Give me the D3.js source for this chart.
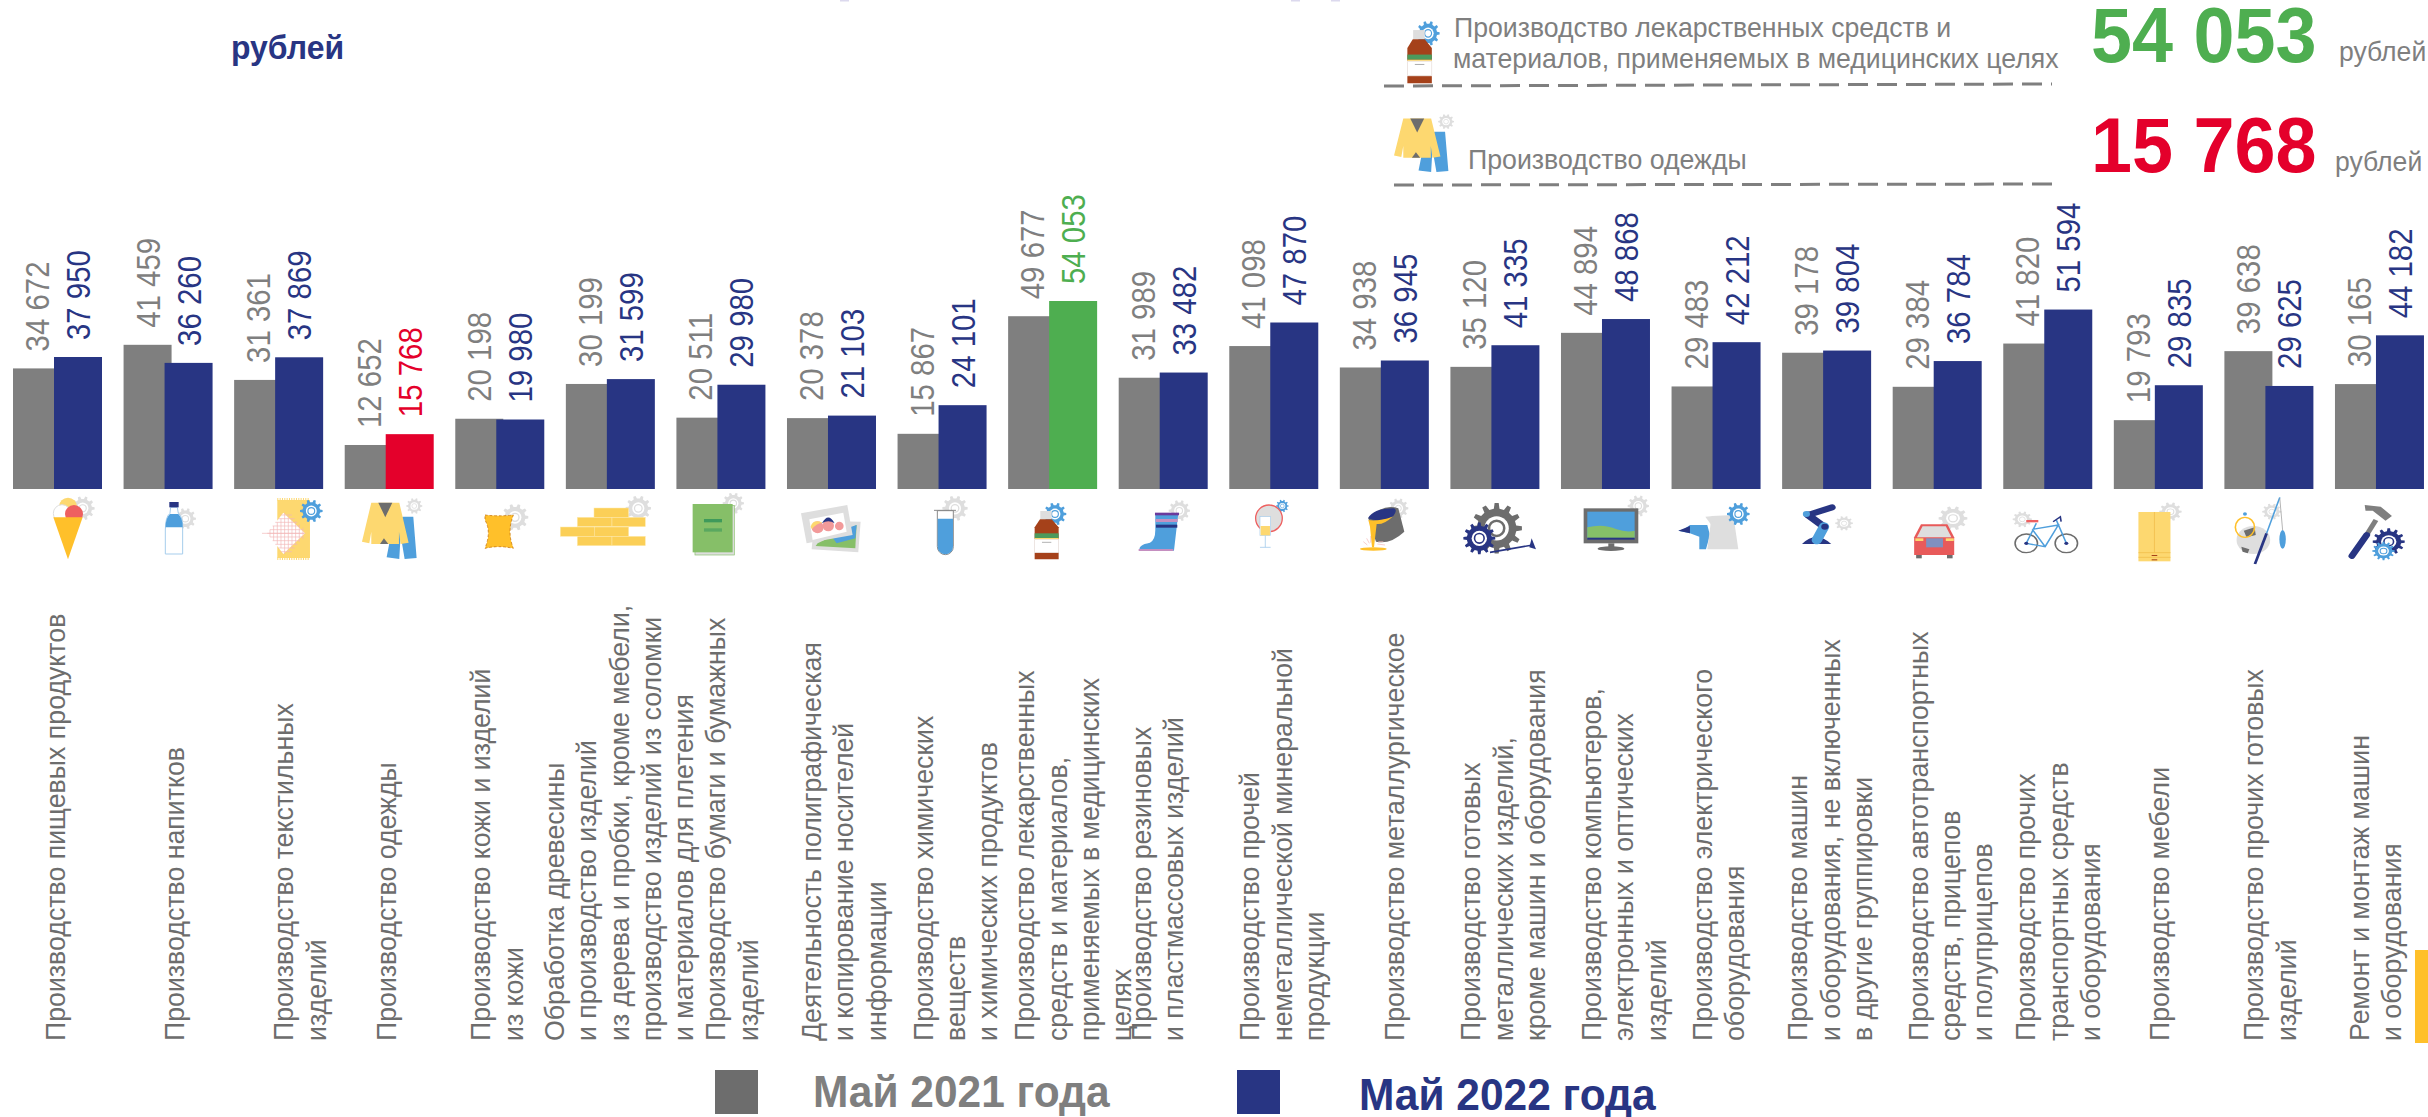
<!DOCTYPE html>
<html lang="ru">
<head>
<meta charset="utf-8">
<title>Заработная плата по видам обрабатывающих производств</title>
<script src="https://d3js.org/d3.v7.min.js"></script>
<style>
  html, body { margin: 0; padding: 0; background: #fff; overflow: hidden; }
  svg { display: block; }
  text { font-family: "Liberation Sans", Arial, sans-serif; }
</style>
</head>
<body>
<div id="chart"></div>
<script>
// data
var categories = [
  ["Производство пищевых продуктов"],
  ["Производство напитков"],
  ["Производство текстильных", "изделий"],
  ["Производство одежды"],
  ["Производство кожи и изделий", "из кожи"],
  ["Обработка древесины", "и производство изделий", "из дерева и пробки, кроме мебели,", "производство изделий из соломки", "и материалов для плетения"],
  ["Производство бумаги и бумажных", "изделий"],
  ["Деятельность полиграфическая", "и копирование носителей", "информации"],
  ["Производство химических", "веществ", "и химических продуктов"],
  ["Производство лекарственных", "средств и материалов,", "применяемых в медицинских", "целях"],
  ["Производство резиновых", "и пластмассовых изделий"],
  ["Производство прочей", "неметаллической минеральной", "продукции"],
  ["Производство металлургическое"],
  ["Производство готовых", "металлических изделий,", "кроме машин и оборудования"],
  ["Производство компьютеров,", "электронных и оптических", "изделий"],
  ["Производство электрического", "оборудования"],
  ["Производство машин", "и оборудования, не включенных", "в другие группировки"],
  ["Производство автотранспортных", "средств, прицепов", "и полуприцепов"],
  ["Производство прочих", "транспортных средств", "и оборудования"],
  ["Производство мебели"],
  ["Производство прочих готовых", "изделий"],
  ["Ремонт и монтаж машин", "и оборудования"]
];
var may2021 = [34672, 41459, 31361, 12652, 20198, 30199, 20511, 20378, 15867, 49677, 31989, 41098, 34938, 35120, 44894, 29483, 39178, 29384, 41820, 19793, 39638, 30165];
var may2022 = [37950, 36260, 37869, 15768, 19980, 31599, 29980, 21103, 24101, 54053, 33482, 47870, 36945, 41335, 48868, 42212, 39804, 36784, 51594, 29835, 29625, 44182];
var legendNames = ["Май 2021 года", "Май 2022 года"];

// where the first line of each category label sits, from the left of its group
var labelShift = [52, 60, 59, 51, 35, -2, 49, 34, 35, 26, 32, 30, 64, 30, 40, 40, 25, 35, 32, 55, 39, 34];

var width = 2428, height = 1117;
var GRAY = "#7f7f7f", NAVY = "#283583", GREEN = "#4eae50", RED = "#e4002b";
var LIGHT = "#dedede", SKY = "#4f9fdc", YELLOW = "#fdd870", AMBER = "#ffc02a", DARK = "#6d6d6d";

var svg = d3.select("#chart").append("svg").attr("width", width).attr("height", height);

var x = d3.scaleBand().domain(d3.range(categories.length)).range([13, 13 + 110.57 * categories.length]);
var y = d3.scaleLinear().domain([0, d3.max(may2022)]).range([489, 301]);
var barW = 48, blueShift = 41;

var fmt = d3.formatLocale({ decimal: ",", thousands: " ", grouping: [3], currency: ["", ""] }).format(",d");

var top2022 = d3.max(may2022), low2022 = d3.min(may2022);
function color2022(v) { return v === top2022 ? GREEN : v === low2022 ? RED : NAVY; }

// the picture is squeezed sideways, so text needs its own x/y stretch
function vText(px, py, str, size, k, col) {
  return svg.append("text")
    .attr("transform", "translate(" + px + "," + py + ") scale(1," + k + ") rotate(-90)")
    .attr("font-size", size).attr("fill", col).text(str);
}
function hText(px, py, str, size, k, col, bold) {
  return svg.append("text")
    .attr("transform", "translate(" + px + "," + py + ") scale(" + k + ",1)")
    .attr("font-size", size).attr("font-weight", bold ? "bold" : "normal").attr("fill", col).text(str);
}

// remains of the cut off title
[840, 1291, 1331].forEach(function (d) {
  svg.append("rect").attr("x", d).attr("y", 0).attr("width", 9).attr("height", 1.5).attr("fill", "#dcd9ee");
});

// bars
svg.append("g").selectAll("rect").data(may2021).join("rect")
  .attr("x", function (d, i) { return x(i); })
  .attr("y", function (d) { return y(d); })
  .attr("width", barW)
  .attr("height", function (d) { return y(0) - y(d); })
  .attr("fill", GRAY);
svg.append("g").selectAll("rect").data(may2022).join("rect")
  .attr("x", function (d, i) { return x(i) + blueShift; })
  .attr("y", function (d) { return y(d); })
  .attr("width", barW)
  .attr("height", function (d) { return y(0) - y(d); })
  .attr("fill", color2022);

// values over the bars
may2021.forEach(function (d, i) { vText(x(i) + 36, y(d) - 17, fmt(d), 34, 0.865, GRAY); });
may2022.forEach(function (d, i) { vText(x(i) + 77, y(d) - 17, fmt(d), 34, 0.865, color2022(d)); });

// category labels
categories.forEach(function (lines, i) {
  lines.forEach(function (line, j) {
    vText(x(i) + labelShift[i] + j * 32.4, 1041, line, 27, 0.99, DARK);
  });
});

// header
hText(231, 59, "рублей", 34, 0.94, NAVY, true);
hText(1454, 37, "Производство лекарственных средств и", 27, 0.988, GRAY);
hText(1453, 68, "материалов, применяемых в медицинских целях", 27, 0.988, GRAY);
hText(1468, 169, "Производство одежды", 27, 0.99, GRAY);
hText(2091, 62, fmt(top2022), 78, 0.945, GREEN, true);
hText(2091, 172, fmt(low2022), 78, 0.945, RED, true);
hText(2339, 61, "рублей", 27, 0.985, GRAY);
hText(2335, 171, "рублей", 27, 0.985, GRAY);
[[1384, 86, 2052, 84], [1394, 185, 2061, 184]].forEach(function (l) {
  svg.append("line").attr("x1", l[0]).attr("y1", l[1]).attr("x2", l[2]).attr("y2", l[3])
    .attr("stroke", GRAY).attr("stroke-width", 3).attr("stroke-dasharray", "20 9");
});

// legend
svg.append("rect").attr("x", 715).attr("y", 1070).attr("width", 43).attr("height", 44).attr("fill", DARK);
svg.append("rect").attr("x", 1237).attr("y", 1070).attr("width", 43).attr("height", 44).attr("fill", NAVY);
hText(813, 1107, legendNames[0], 44, 0.965, GRAY, true);
hText(1359, 1110, legendNames[1], 44, 0.965, NAVY, true);

// yellow corner block
svg.append("rect").attr("x", 2415).attr("y", 950).attr("width", 13).attr("height", 93).attr("fill", AMBER);

// ---- pictograms under the bars ----
function gear(g, cx, cy, r, col, teeth) {
  teeth = teeth || 10;
  var pts = [];
  for (var i = 0; i < teeth; i++) {
    var a = i / teeth * 2 * Math.PI, s = Math.PI / teeth;
    [[-0.5, 0.78], [-0.28, 1], [0.28, 1], [0.5, 0.78]].forEach(function (p) {
      var t = a + p[0] * s * 1.1;
      pts.push([cx + r * p[1] * Math.cos(t), cy + r * p[1] * Math.sin(t)]);
    });
  }
  g.append("path").attr("d", d3.line()(pts) + "Z").attr("fill", col);
  g.append("circle").attr("cx", cx).attr("cy", cy).attr("r", r * 0.48).attr("fill", "#fff");
  g.append("circle").attr("cx", cx).attr("cy", cy).attr("r", r * 0.3).attr("fill", "#fff").attr("stroke", col).attr("stroke-width", r * 0.1);
}
function shape(g, d, col, stroke, sw) {
  return g.append("path").attr("d", d).attr("fill", col || "none")
    .attr("stroke", stroke || "none").attr("stroke-width", sw || 0);
}
function box(g, a, b, w, h, col, stroke, sw) {
  return g.append("rect").attr("x", a).attr("y", b).attr("width", w).attr("height", h)
    .attr("fill", col).attr("stroke", stroke || "none").attr("stroke-width", sw || 0);
}
function dot(g, a, b, r, col, stroke, sw) {
  return g.append("circle").attr("cx", a).attr("cy", b).attr("r", r)
    .attr("fill", col).attr("stroke", stroke || "none").attr("stroke-width", sw || 0);
}
function oval(g, a, b, rx, ry, col, stroke, sw) {
  return g.append("ellipse").attr("cx", a).attr("cy", b).attr("rx", rx).attr("ry", ry)
    .attr("fill", col).attr("stroke", stroke || "none").attr("stroke-width", sw || 0);
}
function stroke(g, d, col, sw, cap) {
  return g.append("path").attr("d", d).attr("fill", "none").attr("stroke", col)
    .attr("stroke-width", sw).attr("stroke-linecap", cap || "butt");
}

// these two are used again in the header
function suitIcon(g) {
  gear(g, 1243, 48, 24, LIGHT);
  shape(g, "M1208,80 L1240,80 L1250,204 L1214,207 L1202,135 L1198,207 L1160,202 L1170,150 Z", SKY);
  shape(g, "M1114,38 L1198,38 L1226,158 L1202,162 L1197,125 L1197,162 L1114,162 L1114,125 L1108,160 L1086,155 Z", YELLOW);
  shape(g, "M1135,38 L1177,38 L1156,82 Z", DARK);
  shape(g, "M1140,162 L1165,162 L1152,145 Z", DARK);
}
function medicineIcon(g) {
  gear(g, 465, 72, 34, SKY);
  box(g, 421, 63, 34, 25, LIGHT);
  shape(g, "M420,88 L455,88 L476,112 V208 H404 V112 Z", "#a5411a");
  box(g, 404, 130, 72, 14, "#4c9a5c");
  box(g, 404, 144, 72, 4, YELLOW);
  box(g, 404, 148, 72, 40, "#fff", "#eee", 2);
  stroke(g, "M426,157 H454", "#8a8a8a", 2);
}

var row1 = svg.append("g").attr("transform", "translate(0,490) scale(0.3333)");
var row2 = svg.append("g").attr("transform", "translate(450,490) scale(0.3333)");
var row3 = svg.append("g").attr("transform", "translate(900,490) scale(0.3333)");
var row4 = svg.append("g").attr("transform", "translate(1350,490) scale(0.3333)");
var row5 = svg.append("g").attr("transform", "translate(1800,490) scale(0.4005,0.3333)");

medicineIcon(svg.append("g").attr("transform", "translate(1270,7) scale(0.34,0.366)"));
suitIcon(svg.append("g").attr("transform", "translate(1034,106.4) scale(0.3315,0.317)"));

// ice cream
gear(row1, 248, 55, 36, LIGHT);
dot(row1, 204, 50, 27, YELLOW);
dot(row1, 186, 70, 26, "#fff", LIGHT, 3);
dot(row1, 222, 72, 27, "#ee6060");
shape(row1, "M160,82 L248,82 L204,208 Z", AMBER);
// bottle of water
gear(row1, 556, 86, 32, LIGHT);
shape(row1, "M512,52 L532,52 L535,70 Q550,80 548,120 L548,192 L496,192 L496,120 Q496,80 510,70 Z", "#fff", "#a6cdec", 3);
shape(row1, "M497,112 Q496,85 510,72 L535,72 Q549,85 548,112 Z", SKY);
box(row1, 508, 36, 28, 16, NAVY);
// textile
box(row1, 832, 30, 98, 174, YELLOW);
stroke(row1, "M832,28 H930 M832,206 H930", YELLOW, 8).attr("stroke-dasharray", "3 4");
gear(row1, 934, 63, 34, SKY);
shape(row1, "M850,68 L915,130 L850,192 L802,130 Z", "#fff");
d3.range(0, 10).forEach(function (i) {
  stroke(row1, "M" + (810 + i * 11) + "," + (130 - (i < 4 ? (i + 1) * 11 : 62 - (i - 4) * 9)) + " V" + (130 + (i < 4 ? (i + 1) * 11 : 62 - (i - 4) * 9)), "#f2b7b7", 2);
});
d3.range(0, 11).forEach(function (i) {
  var h = 75 + i * 11, w = 48 - Math.abs(i - 5) * 8;
  stroke(row1, "M" + (850 - w) + "," + h + " H" + (868 + w), "#f2b7b7", 2);
});
stroke(row1, "M786,130 H912", "#f2b7b7", 2);
// suit
suitIcon(row1);

// leather
gear(row2, 195, 82, 40, LIGHT);
shape(row2, "M105,75 Q145,80 190,75 Q170,125 190,175 Q145,165 105,175 Q125,125 105,90 Z", AMBER, "#c97b1a", 2.5).attr("stroke-dasharray", "8 6");
// planks
gear(row2, 565, 55, 38, LIGHT);
[[432, 54, 104], [382, 82, 104], [486, 82, 100], [331, 111, 104], [434, 111, 102], [382, 139, 104], [486, 139, 100]].forEach(function (p) {
  box(row2, p[0], p[1], p[2], 28, "#fbcf57", "#fde9ae", 1.5);
});
// book
gear(row2, 850, 40, 32, LIGHT);
box(row2, 735, 47, 118, 148, LIGHT, "#86bf68", 2);
box(row2, 728, 42, 120, 145, "#86bf68");
box(row2, 762, 87, 54, 10, "#3f9a5b");
box(row2, 762, 115, 54, 10, "#5aa860");
// photos
shape(row2, "M1093,92 L1232,95 L1225,187 L1085,178 Z", LIGHT);
shape(row2, "M1103,160 L1220,105 L1216,175 L1097,168 Z", "#86bf68");
shape(row2, "M1140,132 L1220,105 L1216,145 L1160,160 Z", SKY);
shape(row2, "M1053,70 L1192,45 L1208,135 L1070,160 Z", LIGHT);
shape(row2, "M1078,88 L1180,68 L1190,125 L1088,150 Z", "#fff");
dot(row2, 1103, 112, 18, "#f29a9a");
shape(row2, "M1082,110 Q1090,85 1118,98 Q1100,98 1086,118 Z", YELLOW);
dot(row2, 1135, 107, 17, "#f29a9a");
shape(row2, "M1116,100 Q1135,65 1154,100 Q1135,88 1116,100 Z", NAVY);
dot(row2, 1168, 108, 13, "#f29a9a");

// test tube
gear(row3, 165, 55, 38, LIGHT);
shape(row3, "M112,62 V170 A24,24 0 0 0 160,170 V62 Z", "#fff", "#8a8a8a", 3);
shape(row3, "M113,86 H159 V170 A23,23 0 0 1 113,170 Z", SKY);
stroke(row3, "M102,61 H168", "#8a8a8a", 3);
// medicine
medicineIcon(row3);
// boot
gear(row3, 838, 62, 32, LIGHT);
shape(row3, "M766,70 L835,70 L822,182 L720,182 Q712,165 750,158 Q766,150 766,120 Z", SKY);
box(row3, 765, 68, 72, 8, "#6a3a9c");
box(row3, 767, 87, 66, 9, "#c58fc0");
box(row3, 768, 104, 64, 9, NAVY);
stroke(row3, "M716,180 H820", "#c58fc0", 6);
// mirror and glass
gear(row3, 1147, 48, 19, SKY);
dot(row3, 1107, 85, 40, LIGHT, "#ee6060", 4);
box(row3, 1080, 80, 32, 57, "#fff", "#a6cdec", 2);
box(row3, 1082, 108, 28, 28, YELLOW);
stroke(row3, "M1096,137 V172 M1080,172 H1112", "#a6cdec", 2.5);

// ladle
gear(row4, 145, 55, 30, LIGHT);
shape(row4, "M55,85 Q100,40 145,55 L163,125 Q120,165 78,155 Z", DARK);
shape(row4, "M54,85 Q70,55 130,55 Q145,58 130,78 Q90,100 54,85 Z", NAVY);
shape(row4, "M55,90 Q85,95 128,80 Q100,105 80,102 L72,172 L66,172 L60,110 Z", AMBER);
oval(row4, 70, 177, 40, 5, AMBER);
stroke(row4, "M40,155 L52,165 M50,145 L58,160 M62,138 L62,158 M85,155 L100,155 M82,162 L105,165", "#f2b7b7", 2);
// metal goods
gear(row4, 440, 115, 76, DARK, 12);
gear(row4, 388, 145, 48, NAVY, 12);
stroke(row4, "M420,187 L548,165", NAVY, 5);
shape(row4, "M545,145 L558,178 L538,172 Z", NAVY);
// monitor
gear(row4, 865, 48, 32, LIGHT);
box(row4, 701, 55, 164, 105, DARK);
box(row4, 712, 65, 142, 80, SKY);
shape(row4, "M712,112 Q760,100 800,118 Q830,128 854,122 V145 H712 Z", "#86bf68");
box(row4, 712, 143, 142, 6, NAVY);
box(row4, 775, 160, 18, 12, DARK);
oval(row4, 783, 176, 40, 7, DARK);
// drill and kettle
shape(row4, "M1002,118 L1020,105 L1072,105 L1080,135 L1068,178 L1048,178 L1048,140 L1020,130 L985,122 Z", SKY);
shape(row4, "M985,122 L1020,108 L1020,130 Z", NAVY);
shape(row4, "M1085,78 L1150,75 L1165,178 L1072,178 Z", LIGHT);
shape(row4, "M1066,80 L1090,78 L1088,110 Z", LIGHT);
gear(row4, 1165, 72, 34, SKY);

// robot arm
gear(row5, 110, 100, 22, LIGHT);
shape(row5, "M5,162 Q40,120 78,162 Z", NAVY);
stroke(row5, "M20,75 L80,52", NAVY, 18, "round");
stroke(row5, "M20,75 L60,110", NAVY, 20, "round");
stroke(row5, "M60,110 L42,150", SKY, 26, "round");
dot(row5, 16, 72, 9, SKY);
dot(row5, 62, 110, 9, NAVY);
// car
gear(row5, 382, 85, 36, LIGHT);
shape(row5, "M302,103 L368,103 L385,142 L385,195 L285,195 L285,142 Z", "#e85a5a");
shape(row5, "M306,109 L364,109 L378,142 L292,142 Z", LIGHT);
box(row5, 288, 145, 20, 8, YELLOW);
box(row5, 364, 145, 20, 8, YELLOW);
box(row5, 315, 145, 42, 27, "#7f90c0");
box(row5, 290, 195, 14, 10, DARK);
box(row5, 367, 195, 14, 10, DARK);
// bicycle
gear(row5, 555, 88, 24, LIGHT);
dot(row5, 565, 160, 28, "#fff", DARK, 4);
dot(row5, 665, 160, 28, "#fff", DARK, 4);
stroke(row5, "M565,160 L590,100 M580,118 L645,105 L612,170 L565,160 M612,170 L580,118 M640,90 L665,160", SKY, 4);
box(row5, 565, 90, 30, 7, "#ee6060");
stroke(row5, "M632,95 L650,80 L652,95", NAVY, 4);
dot(row5, 565, 160, 5, NAVY);
dot(row5, 665, 160, 5, NAVY);
// wardrobe
gear(row5, 925, 65, 28, LIGHT);
box(row5, 845, 66, 80, 148, YELLOW);
stroke(row5, "M885,66 V188 M845,188 H925 M845,202 H925", "#f0bc48", 2);
box(row5, 878, 195, 14, 3, "#a5411a");
box(row5, 878, 208, 14, 3, "#a5411a");
// ball and rod
gear(row5, 1178, 65, 24, LIGHT);
dot(row5, 1132, 150, 42, LIGHT);
shape(row5, "M1108,122 L1135,112 L1138,135 L1115,142 Z", DARK);
shape(row5, "M1102,170 L1122,178 L1118,190 L1105,185 Z", DARK);
oval(row5, 1111, 112, 24, 30, "none", AMBER, 4);
dot(row5, 1111, 72, 5, SKY);
stroke(row5, "M1198,22 L1165,130", SKY, 4);
stroke(row5, "M1165,130 L1136,222", NAVY, 7);
stroke(row5, "M1198,25 L1205,120", "#9a9a9a", 2);
oval(row5, 1205, 148, 8, 28, SKY);
// hammer and gears
gear(row5, 1470, 155, 40, NAVY, 12);
stroke(row5, "M1438,90 L1412,140", "#7f7f7f", 13);
stroke(row5, "M1415,135 L1378,198", NAVY, 17, "round");
shape(row5, "M1410,45 L1450,50 L1478,78 L1462,92 L1430,62 L1412,62 Z", "#7f7f7f");
gear(row5, 1457, 183, 28, SKY, 12);
</script>
</body>
</html>
